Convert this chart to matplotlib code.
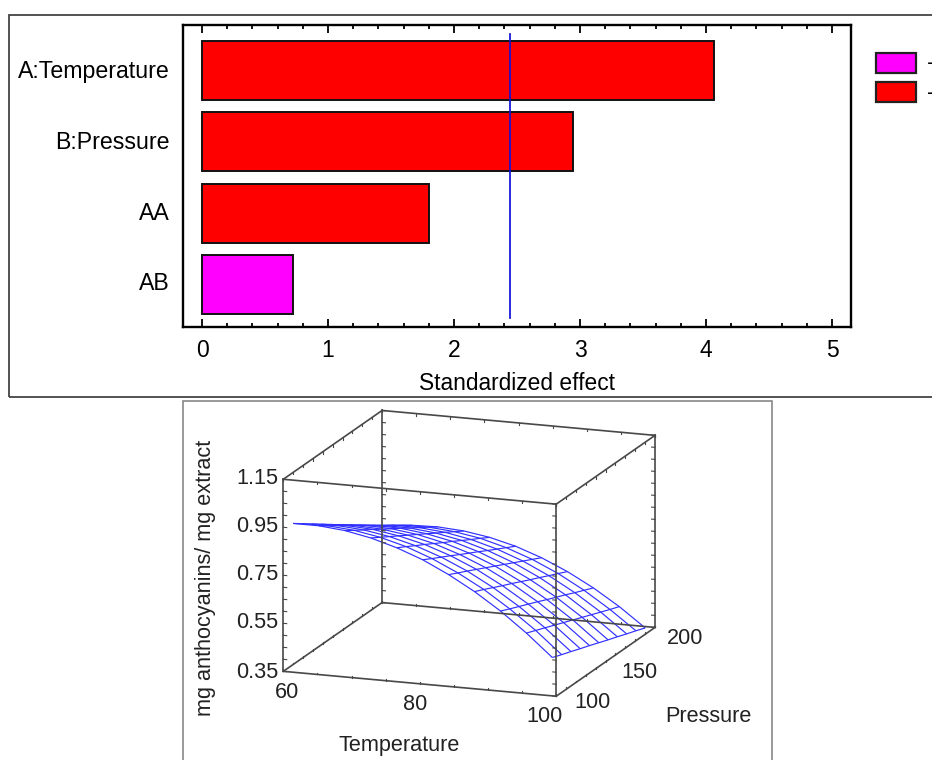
import numpy as np
import matplotlib
matplotlib.use("Agg")
import matplotlib.pyplot as plt
from matplotlib.patches import Rectangle, Patch
from matplotlib.transforms import ScaledTranslation
from mpl_toolkits.mplot3d import proj3d

plt.rcParams['font.family'] = ['Liberation Sans', 'DejaVu Sans']

# ---- Pareto chart data
effects = ['A:Temperature', 'B:Pressure', 'AA', 'AB']
effect_values = [4.06, 2.945, 1.80, 0.72]
effect_signs = ['-', '-', '-', '+']
threshold = 2.44
x_ticks = [0, 1, 2, 3, 4, 5]
x_minor_ticks = [i / 5 for i in range(0, 26)]

# ---- Response surface data
temperature = [61.0, 64.8, 68.6, 72.4, 76.2, 80.0, 83.8, 87.6, 91.4, 95.2, 99.0]
pressure = [103.0, 112.4, 121.8, 131.2, 140.6, 150.0, 159.4, 168.8, 178.2, 187.6, 197.0]
response = [  # rows: temperature, columns: pressure
    [.960, .932, .904, .876, .848, .820, .792, .764, .736, .708, .680],
    [.960, .933, .907, .880, .853, .827, .800, .773, .747, .720, .693],
    [.950, .924, .899, .874, .848, .823, .798, .772, .747, .722, .696],
    [.929, .905, .881, .857, .833, .809, .785, .761, .737, .713, .689],
    [.898, .876, .853, .831, .808, .785, .763, .740, .717, .695, .672],
    [.858, .836, .815, .794, .772, .751, .730, .708, .687, .666, .645],
    [.806, .786, .767, .747, .727, .707, .687, .667, .647, .627, .607],
    [.745, .727, .708, .689, .671, .652, .633, .615, .596, .578, .559],
    [.674, .656, .639, .622, .605, .587, .570, .553, .535, .518, .501],
    [.592, .576, .560, .544, .528, .512, .496, .480, .464, .448, .433],
    [.500, .485, .471, .456, .442, .427, .412, .398, .383, .369, .354],
]
T_range = (60, 100)
P_range = (100, 200)
Z_range = (0.35, 1.15)
z_labels = ['0.35', '0.55', '0.75', '0.95', '1.15']

W, H = 932, 760
fig = plt.figure(figsize=(W / 100, H / 100), dpi=100, facecolor='white')


def fx(x):
    return x / W


def fy(y):
    return 1 - y / H


def frame(x0, y0, x1, y1, color, lw):
    fig.add_artist(Rectangle((fx(x0), fy(y1)), fx(x1) - fx(x0), fy(y0) - fy(y1),
                             transform=fig.transFigure, fill=False,
                             edgecolor=color, linewidth=lw))


frame(9, 15, 945, 396.5, '#444444', 1.3)
frame(183, 401.5, 771.5, 775, '#888888', 1.2)

# ---- Pareto chart
L, R, Tp, B = 182.5, 851, 25, 327
ax = fig.add_axes([fx(L), fy(B), fx(R) - fx(L), fy(Tp) - fy(B)])
colors = {'+': '#ff00ff', '-': '#ff0000'}
ypos = np.arange(len(effects))
ax.barh(ypos, effect_values, height=0.825,
        color=[colors[s] for s in effect_signs], edgecolor='#111111', linewidth=1.4)
ax.axvline(threshold, ymin=0.03, ymax=0.97, color='#1010d8', linewidth=1.25)
ax.set_xlim(-0.155, 5.15)
ax.set_ylim(3.59, -0.63)
ax.set_xticks(x_ticks)
ax.set_xticks(x_minor_ticks, minor=True)
ax.set_yticks(ypos)
ax.set_yticklabels(effects, fontsize=16.7)
ax.tick_params(axis='y', length=0, pad=9)
ax.tick_params(axis='x', which='major', direction='in', top=True, length=5.5, width=1.3,
               labelsize=16.5, pad=8.5)
ax.tick_params(axis='x', which='minor', direction='in', top=True, length=3.2, width=1.3)
ax.set_xlabel('Standardized effect', fontsize=16.4)
ax.xaxis.set_label_coords((517 - L) / (R - L), -(383 - B) / (B - Tp), transform=ax.transAxes)
ax.xaxis.label.set_verticalalignment('center')
for s in ax.spines.values():
    s.set_linewidth(1.7)
for lab, dy in zip(ax.get_yticklabels(), [1, 2, 2, 4]):
    lab.set_transform(lab.get_transform() + ScaledTranslation(0, dy / 100, fig.dpi_scale_trans))

handles = [Patch(facecolor=colors['+'], edgecolor='#222222', linewidth=1.6),
           Patch(facecolor=colors['-'], edgecolor='#222222', linewidth=1.6)]
fig.legend(handles, ['+', '-'], loc='upper left', bbox_to_anchor=(fx(876), fy(53)),
           frameon=False, fontsize=16.5, borderpad=0, borderaxespad=0,
           handlelength=1.74, handleheight=0.966, labelspacing=0.24, handletextpad=0.48)

# ---- 3D response surface (orthographic view)
ax3 = fig.add_axes([fx(250), fy(730), fx(500) - fx(0), fy(230) - fy(730)],
                   projection='3d', proj_type='ortho')
ax3.view_init(elev=14.6, azim=-70.1)
ax3.set_box_aspect((291, 291, 199))
ax3.computed_zorder = False
ax3.set_axis_off()
ax3.patch.set_alpha(0)
ax3.set_xlim(*T_range)
ax3.set_ylim(*P_range)
ax3.set_zlim(*Z_range)

X, Y = np.meshgrid(temperature, pressure, indexing='ij')
Z = np.array(response)
ax3.plot_wireframe(X, Y, Z, rstride=1, cstride=1, color='#3030ff', linewidth=0.85, zorder=2)

t0, t1 = T_range
p0, p1 = P_range
z0, z1 = Z_range
box_color = '#484848'
for a, b in [((t0, p0, z0), (t1, p0, z0)), ((t0, p1, z0), (t1, p1, z0)),
             ((t0, p0, z1), (t1, p0, z1)), ((t0, p1, z1), (t1, p1, z1)),
             ((t0, p0, z0), (t0, p1, z0)), ((t1, p0, z0), (t1, p1, z0)),
             ((t0, p0, z1), (t0, p1, z1)), ((t1, p0, z1), (t1, p1, z1)),
             ((t0, p0, z0), (t0, p0, z1)), ((t1, p0, z0), (t1, p0, z1)),
             ((t0, p1, z0), (t0, p1, z1)), ((t1, p1, z0), (t1, p1, z1))]:
    ax3.plot(*zip(a, b), color=box_color, linewidth=1.2, zorder=3)

# tick marks along the box edges
dT, dP, dZ = 0.5, 1.5, 0.008
for zv in np.arange(z0, z1 + 1e-6, 0.05):
    for tv, pv, sign in [(t0, p0, 1), (t0, p1, 1), (t1, p0, -1), (t1, p1, -1)]:
        ax3.plot([tv, tv + sign * dT], [pv, pv], [zv, zv], color=box_color, linewidth=0.8, zorder=3)
for tv in np.arange(t0, t1 + 1e-6, 5):
    for pv in (p0, p1):
        for zv, sign in ((z0, 1), (z1, -1)):
            ax3.plot([tv, tv], [pv, pv], [zv, zv + sign * dZ], color=box_color, linewidth=0.8, zorder=3)
for pv in np.arange(p0, p1 + 1e-6, 10):
    for tv in (t0, t1):
        for zv, sign in ((z0, 1), (z1, -1)):
            ax3.plot([tv, tv], [pv, pv], [zv, zv + sign * dZ], color=box_color, linewidth=0.8, zorder=3)


def corner_px(pt):
    fig.canvas.draw()
    x, y, _ = proj3d.proj_transform(pt[0], pt[1], pt[2], ax3.M)
    return ax3.transData.transform((x, y))


# fit the orthographic box on the canvas: front-left-bottom and back-right-top corners
target_a = np.array([283.3, H - 671.7])
target_b = np.array([655.0, H - 435.0])
for _ in range(4):
    a = corner_px((t0, p0, z0))
    b = corner_px((t1, p1, z1))
    s = (target_b[0] - target_a[0]) / (b[0] - a[0])
    pos = ax3.get_position(original=True)
    cx, cy = (pos.x0 + pos.width / 2) * W, (pos.y0 + pos.height / 2) * H
    mid_now = (a + b) / 2
    mid_tgt = (target_a + target_b) / 2
    new_cx = mid_tgt[0] + (cx - mid_now[0]) * s
    new_cy = mid_tgt[1] + (cy - mid_now[1]) * s
    w_new, h_new = pos.width * s, pos.height * s
    ax3.set_position([new_cx / W - w_new / 2, new_cy / H - h_new / 2, w_new, h_new])

# labels of the 3D plot
txt = dict(fontsize=15.6, color='#222222', va='center', ha='center')
for lab, y in zip(z_labels, [672, 623, 575, 527, 479]):
    fig.text(fx(278), fy(y), lab, **{**txt, 'ha': 'right'})
for lab, x, y in [('60', 287, 692.7), ('80', 415, 705), ('100', 544, 716),
                  ('100', 592, 703), ('150', 639, 672), ('200', 685, 638)]:
    fig.text(fx(x), fy(y), lab, **txt)
fig.text(fx(399), fy(746), 'Temperature', **txt)
fig.text(fx(708), fy(717), 'Pressure', **txt)
fig.text(fx(205), fy(578), 'mg anthocyanins/ mg extract', rotation=90, **txt)

fig.savefig('out.png', dpi=100)
